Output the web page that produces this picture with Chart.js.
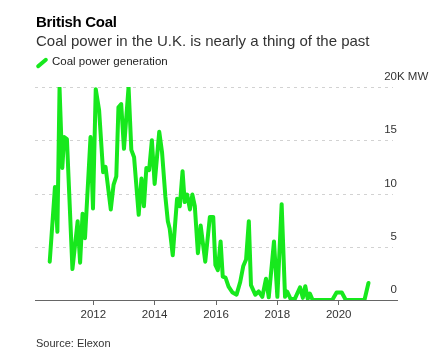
<!DOCTYPE html>
<html>
<head>
<meta charset="utf-8">
<script src="https://cdn.jsdelivr.net/npm/chart.js@4/dist/chart.umd.min.js"></script>
<style>
  body { margin: 0; background: #fff; font-family: "Liberation Sans", Arial, sans-serif; }
  #wrap { position: relative; width: 440px; height: 351px; overflow: hidden; }
  #chart { position: absolute; left: 0; top: 0; }
  .txt { position: absolute; white-space: nowrap; }
  #title { left: 36px; top: 13px; font-size: 15px; font-weight: bold; color: #000; letter-spacing: -0.3px; }
  #sub { left: 36px; top: 32px; font-size: 15px; color: #333; }
  #leg { left: 52px; top: 55px; font-size: 11.5px; color: #222; }
  #legmark { position: absolute; left: 35px; top: 61px; width: 14px; height: 4px; background: #17e81d; transform: rotate(-40deg); border-radius: 2px; }
  #src { left: 36px; top: 337px; font-size: 11px; color: #333; }
</style>
</head>
<body>
<div id="wrap">
  <canvas id="chart" width="440" height="351"></canvas>
  <div class="txt" id="title">British Coal</div>
  <div class="txt" id="sub">Coal power in the U.K. is nearly a thing of the past</div>
  <div id="legmark"></div>
  <div class="txt" id="leg">Coal power generation</div>
  <div class="txt" id="src">Source: Elexon</div>
</div>
<script>
// decimal year, thousand MW
var years = [2010.58, 2010.75, 2010.83, 2010.90, 2010.99, 2011.05, 2011.14, 2011.32, 2011.49, 2011.57,
  2011.65, 2011.73, 2011.91, 2011.99, 2012.08, 2012.19, 2012.32, 2012.40, 2012.57, 2012.66,
  2012.75, 2012.82, 2012.91, 2013.00, 2013.15, 2013.24, 2013.33, 2013.48, 2013.57, 2013.65,
  2013.73, 2013.82, 2013.91, 2014.00, 2014.15, 2014.24, 2014.35, 2014.43, 2014.49, 2014.59,
  2014.73, 2014.82, 2014.91, 2014.98, 2015.06, 2015.15, 2015.23, 2015.31, 2015.41, 2015.50,
  2015.65, 2015.80, 2015.91, 2015.98, 2016.06, 2016.15, 2016.22, 2016.31, 2016.41, 2016.54,
  2016.67, 2016.79, 2016.89, 2016.98, 2017.07, 2017.14, 2017.28, 2017.39, 2017.51, 2017.63,
  2017.72, 2017.89, 2018.00, 2018.14, 2018.25, 2018.32, 2018.43, 2018.57, 2018.74, 2018.83,
  2018.91, 2018.99, 2019.06, 2019.15, 2019.79, 2019.93, 2020.10, 2020.23, 2020.84, 2020.97];
var coalGen = [3.6, 10.6, 6.4, 19.9, 12.4, 15.3, 15.1, 2.9, 7.4, 3.5,
  8.1, 5.8, 15.3, 8.6, 19.8, 17.8, 12.0, 12.5, 8.5, 10.8,
  11.6, 18.1, 18.4, 14.2, 20.0, 14.1, 13.4, 8.0, 11.4, 8.8,
  12.4, 12.2, 15.0, 10.9, 15.8, 13.9, 9.7, 7.4, 6.7, 4.2,
  9.5, 8.8, 12.1, 9.2, 9.9, 8.5, 9.9, 8.8, 4.4, 7.0,
  3.6, 7.8, 7.8, 3.3, 2.8, 5.5, 2.2, 2.1, 1.25, 0.7,
  0.5, 1.7, 3.2, 3.8, 7.4, 1.4, 0.5, 0.8, 0.3, 2.0,
  0.25, 5.5, 0.3, 9.0, 0.3, 0.8, 0.1, 0.1, 1.2, 0.2,
  1.3, 0.1, 0.6, 0, 0, 0.7, 0.7, 0, 0, 1.6];
var xTicks = [2012, 2014, 2016, 2018, 2020];
var yTicks = [0, 5, 10, 15, 20];
var yUnit = 'K MW';

var points = years.map(function(y, i){ return { x: y, y: coalGen[i] }; });

var textColor = '#333';
var lineGreen = '#17e81d';

// dashed horizontal grid + right-hand labels sitting above each line
var yDecor = {
  id: 'yDecor',
  beforeDatasetsDraw: function(chart) {
    var ctx = chart.ctx, ys = chart.scales.y, a = chart.chartArea;
    ctx.save();
    ctx.strokeStyle = '#d2d2d2';
    ctx.lineWidth = 1;
    ctx.setLineDash([3, 4]);
    yTicks.forEach(function(v) {
      if (v === 0) return;
      var py = Math.round(ys.getPixelForValue(v)) + 0.5;
      ctx.beginPath();
      ctx.moveTo(a.left, py);
      ctx.lineTo(a.right - 4, py);
      ctx.stroke();
    });
    ctx.restore();
  },
  afterDraw: function(chart) {
    var ctx = chart.ctx, ys = chart.scales.y, right = chart.chartArea.right;
    ctx.save();
    ctx.font = '11.5px "Liberation Sans", Arial, sans-serif';
    ctx.fillStyle = textColor;
    ctx.textBaseline = 'alphabetic';
    yTicks.forEach(function(v, i) {
      var py = ys.getPixelForValue(v) - 7;
      ctx.textAlign = 'right';
      ctx.fillText(String(v), right, py);
      if (i === yTicks.length - 1) {
        ctx.textAlign = 'left';
        ctx.fillText(yUnit, right, py);
      }
    });
    ctx.restore();
  }
};

new Chart(document.getElementById('chart'), {
  type: 'line',
  data: {
    datasets: [{
      label: 'Coal power generation',
      data: points,
      borderColor: lineGreen,
      borderWidth: 4,
      borderJoinStyle: 'round',
      borderCapStyle: 'round',
      pointRadius: 0,
      tension: 0,
      fill: false
    }]
  },
  options: {
    responsive: false,
    animation: false,
    layout: { padding: { left: 35, right: 43, top: 87, bottom: 29 } },
    plugins: { legend: { display: false }, tooltip: { enabled: false } },
    scales: {
      x: {
        type: 'linear',
        min: 2010.1,
        max: 2021.9,
        afterBuildTicks: function(s){ s.ticks = xTicks.map(function(v){ return { value: v }; }); },
        afterFit: function(s){ s.height = 22; },
        grid: { drawOnChartArea: false, drawTicks: true, tickLength: 5, color: '#666', lineWidth: 1 },
        border: { display: true, color: '#666', width: 1 },
        ticks: {
          color: textColor,
          padding: 3,
          maxRotation: 0,
          font: { family: '"Liberation Sans", Arial, sans-serif', size: 11.5 },
          callback: function(v){ return String(v); }
        }
      },
      y: {
        position: 'right',
        min: 0,
        max: 20,
        afterBuildTicks: function(s){ s.ticks = yTicks.map(function(v){ return { value: v }; }); },
        afterFit: function(s){ s.width = 0; },
        grid: { display: false },
        border: { display: false },
        ticks: { display: false }
      }
    }
  },
  plugins: [yDecor]
});
</script>
</body>
</html>
